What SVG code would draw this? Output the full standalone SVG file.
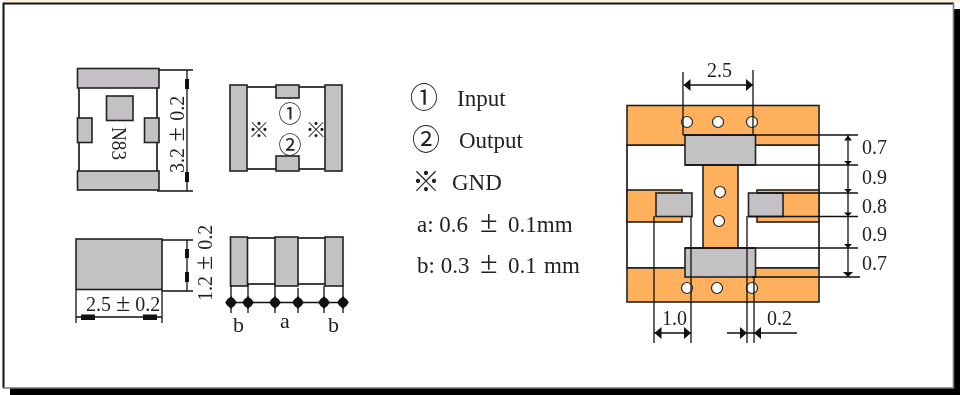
<svg xmlns="http://www.w3.org/2000/svg" width="960" height="395" viewBox="0 0 960 395">
<defs><filter id="n" x="0" y="0" width="1" height="1" filterUnits="objectBoundingBox"><feOffset dx="0" dy="0"/></filter></defs>
<style>
.l{fill:none;stroke:#111;stroke-width:1.3}
.g{fill:#c3c1c4;stroke:#222;stroke-width:1.6}
.w{fill:#fff;stroke:#111;stroke-width:1.6}
.o{fill:#ffb05c;stroke:#222;stroke-width:1.6}
.h{fill:#fff;stroke:#222;stroke-width:1.2}
.a{fill:#111}
text{font-family:"Liberation Serif","Times New Roman",serif;fill:#222;filter:url(#n)}
.d{font-size:20px}
.t{font-size:23px}
.cjk{font-family:"Noto Sans CJK SC","Liberation Serif",serif;text-anchor:middle}
.pm{font-size:32px}
.ps{font-size:26px}
</style>
<g id="frame">
<rect x="0" y="0" width="960" height="395" fill="#fff"/>
<rect x="4" y="0" width="956" height="2" fill="#ffeedd"/>
<rect x="10" y="9" width="950" height="386" fill="#000"/>
<rect x="3" y="3" width="951" height="385" fill="#fff"/>
<path d="M3.5 388V3.5H954" fill="none" stroke="#111" stroke-width="2"/>
<path d="M953.5 3V388H3" fill="none" stroke="#777" stroke-width="1.6"/>
</g>
<g id="top-view">
<rect class="w" x="79" y="70" width="78" height="118"/>
<rect class="g" x="77.500" y="68.500" width="81.500" height="19.500"/>
<rect class="g" x="77.500" y="171" width="81.500" height="19"/>
<rect class="g" x="106.500" y="96" width="26.500" height="24.500"/>
<rect class="g" x="77.500" y="118" width="14.500" height="24.500"/>
<rect class="g" x="144.500" y="118" width="14.500" height="24.500"/>
<text transform="translate(112,127) rotate(90)" font-size="20" textLength="33" lengthAdjust="spacingAndGlyphs">N83</text>
</g>
<g id="bottom-view">
<rect class="w" x="240" y="87" width="95" height="82"/>
<rect class="g" x="230" y="85" width="17" height="86"/>
<rect class="g" x="325" y="85" width="17" height="86"/>
<rect class="g" x="276" y="85" width="23" height="13"/>
<rect class="g" x="276" y="156" width="23" height="15"/>
<text class="cjk" font-size="23" x="290" y="122">①</text>
<text class="cjk" font-size="23" x="290" y="153">②</text>
<text class="cjk" font-size="21" x="259" y="137">※</text>
<text class="cjk" font-size="21" x="316" y="137">※</text>
</g>
<g id="side-view">
<rect class="g" x="76" y="239" width="86" height="50.500"/>
</g>
<g id="end-view">
<rect class="w" x="235" y="238" width="100" height="46"/>
<rect class="g" x="230.500" y="237" width="17" height="49"/>
<rect class="g" x="275" y="237" width="23" height="49"/>
<rect class="g" x="325" y="237" width="18" height="49"/>
</g>
<g id="pad-layout">
<rect class="w" x="627" y="145" width="192" height="123"/>
<rect class="o" x="627" y="105.500" width="192" height="39.500"/>
<rect class="o" x="627" y="190" width="55" height="32"/>
<rect class="o" x="757" y="190" width="62" height="32"/>
<rect class="o" x="627" y="268" width="192" height="34"/>
<rect class="o" x="703" y="164" width="35" height="84"/>
<rect class="g" x="685" y="135" width="70.500" height="30"/>
<rect class="g" x="685" y="248" width="70.500" height="29"/>
<rect class="g" x="656" y="193" width="36" height="23.500"/>
<rect class="g" x="748.500" y="193" width="34.500" height="23.500"/>
<circle class="h" cx="687" cy="122" r="5.500"/>
<circle class="h" cx="718" cy="122" r="5.500"/>
<circle class="h" cx="752" cy="122" r="5.500"/>
<circle class="h" cx="720" cy="192" r="5.500"/>
<circle class="h" cx="719" cy="221" r="5.500"/>
<circle class="h" cx="687" cy="288" r="5.500"/>
<circle class="h" cx="717" cy="288" r="5.500"/>
<circle class="h" cx="752" cy="288" r="5.500"/>
</g>
<g id="connectors">
<path class="l" d="M159 70H193M157 191H193M187 70V191M162 240H193M162 291H193M187 240V291M76 290V323M162 290V323M76 317H162"/>
<path class="l" d="M231 286V313M248 284V313M275 286V313M298 288V313M324 286V313M343 286V313M231 302.500H343"/>
<path class="l" d="M683 72V135M753 70V135M684 85H753"/>
<path class="l" d="M683 135H858M685 165H858M757 193H858M748 216.500H858M685 248H858M752 277H860M848 135V277"/>
<path class="l" d="M654 216V343M691 216V343M747 216V343M754 277V343M654 333H691M727 333H797"/>
<g class="a">
<path d="M185 79h4v10h-4zM185 172h4v10h-4zM185 249h4v9h-4zM185 272h4v10h-4zM81 314.500h14v5.500H81zM143 314.500h14v5.500h-14z"/>
<path d="M683.500 85l7-6v12zM753 85l-7-6v12zM848 135.500l-4 5h8zM848 165l-4-4h8zM848 193l-4-4h8zM848 216.500l-4-4h8zM848 248l-4-4h8zM848 277l-5-5h10z"/>
<path d="M654.500 333l7-6v12zM691 333l-7-6v12zM747 333l-7-6v12zM754 333l7-6v12z"/>
<path d="M231 296l6 6.500-6 6.500-6-6.500zM248 296l6 6.500-6 6.500-6-6.500zM275 296l6 6.500-6 6.500-6-6.500zM298 296l6 6.500-6 6.500-6-6.500zM324 296l6 6.500-6 6.500-6-6.500zM343 296l6 6.500-6 6.500-6-6.500z"/>
<circle cx="231" cy="302.500" r="4.800"/><circle cx="248" cy="302.500" r="4.800"/><circle cx="275" cy="302.500" r="4.800"/><circle cx="298" cy="302.500" r="4.800"/><circle cx="324" cy="302.500" r="4.800"/><circle cx="343" cy="302.500" r="4.800"/>
</g>
</g>
<g id="labels">
<text class="d" transform="translate(184,173) rotate(-90)" word-spacing="1.500">3.2 <tspan class="ps">±</tspan> 0.2</text>
<text class="d" transform="translate(212,301) rotate(-90)" word-spacing="1">1.2 <tspan class="ps">±</tspan> 0.2</text>
<text class="d" x="86" y="311">2.5 <tspan class="ps">±</tspan> 0.2</text>
<text font-size="22" x="233" y="332">b</text>
<text font-size="22" x="280" y="328">a</text>
<text font-size="22" x="328" y="332">b</text>
<text class="d" x="707" y="77">2.5</text>
<text class="d" x="862" y="154">0.7</text>
<text class="d" x="862" y="184">0.9</text>
<text class="d" x="862" y="213">0.8</text>
<text class="d" x="862" y="241">0.9</text>
<text class="d" x="862" y="270">0.7</text>
<text class="d" x="662" y="325">1.0</text>
<text class="d" x="767" y="325">0.2</text>
<text class="cjk" font-size="28" x="424" y="108">①</text>
<text class="t" x="457" y="106" font-size="24">Input</text>
<text class="cjk" font-size="28" x="426" y="150">②</text>
<text class="t" x="459" y="148">Output</text>
<text class="cjk" font-size="28" x="426" y="192">※</text>
<text class="t" x="452" y="190">GND</text>
<text class="t" x="417" y="232">a: 0.6 <tspan class="pm" x="480">±</tspan> <tspan x="508">0.1mm</tspan></text>
<text class="t" x="417" y="273">b: 0.3 <tspan class="pm" x="480">±</tspan> <tspan x="508">0.1</tspan> <tspan x="544">mm</tspan></text>
</g>
</svg>
